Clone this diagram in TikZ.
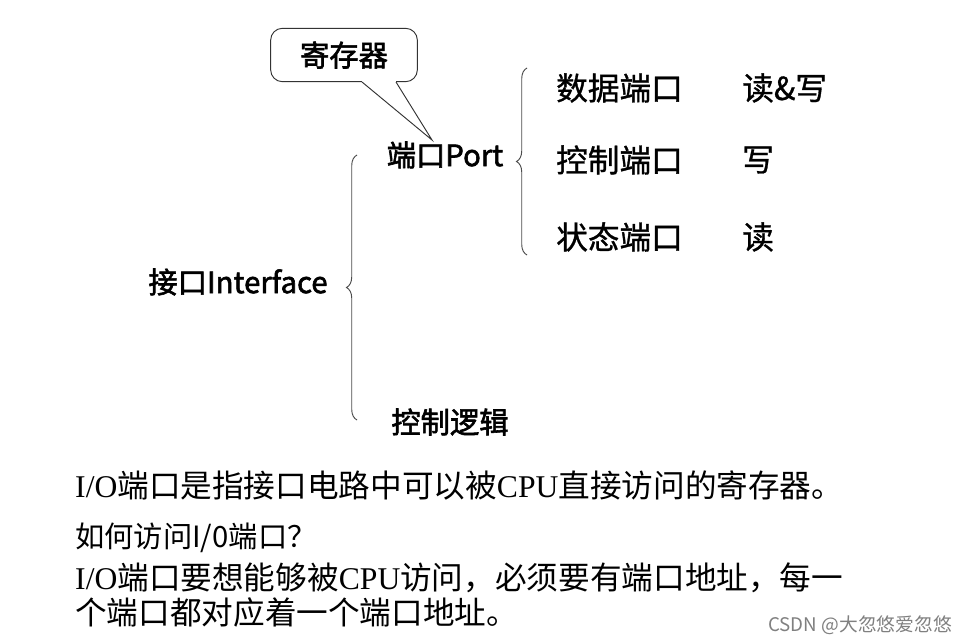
\documentclass[tikz,border=0pt]{standalone}
\usepackage{fontspec}
\usetikzlibrary{decorations.pathreplacing}
\newfontfamily\cjk{Noto Sans CJK SC}
\newfontfamily\cjkb[FakeBold=2]{Noto Sans CJK SC}
\newfontfamily\cjkm[FakeBold=1]{Noto Sans CJK SC}
\newfontfamily\serifcjk{Noto Sans CJK SC}
\setmainfont{Liberation Serif}
\begin{document}
\begin{tikzpicture}[x=0.03cm,y=-0.03cm,
  lbl/.style={font=\cjkb\fontsize{25}{28}\selectfont,inner sep=0pt},
  sub/.style={font=\cjkm\fontsize{27}{30}\selectfont,inner sep=0pt},
  body/.style={font=\fontsize{27}{30}\selectfont,inner sep=0pt,anchor=west},
  br/.style={draw=black!70,line width=0.8pt,decorate,decoration={brace,amplitude=9pt}}]
\useasboundingbox (0,0) rectangle (972,643);
\fill[white] (0,0) rectangle (972,643);
% callout
\node[draw=black!80,line width=0.8pt,rounded corners=10pt,inner sep=0pt,
  minimum width=4.4cm,minimum height=1.6cm,font=\cjkb\fontsize{25}{28}\selectfont] (reg) at (344,55) {寄存器};
\fill[white] (362,80) rectangle (396,84);
\coordinate (tip) at (432,140);
\draw[black!80,line width=0.8pt] (362,82) -- (tip) -- (396,82);
\node[lbl] (port) at (445,155) {端口Port};
\draw[br] (527,255) -- (527,68);
\node[sub,anchor=west] (d1) at (556,88) {数据端口};
\node[sub,anchor=west] (r1) at (742,88) {读\&写};
\node[sub,anchor=west] (d2) at (556,160) {控制端口};
\node[sub,anchor=west] (r2) at (742,160) {写};
\node[sub,anchor=west] (d3) at (556,237) {状态端口};
\node[sub,anchor=west] (r3) at (742,237) {读};
\draw[br] (357,420) -- (357,155);
\node[lbl] (intf) at (238,282) {接口Interface};
\node[lbl] (ctl) at (450,422) {控制逻辑};
\node[body] (t1) at (75,485) {I/O{\serifcjk 端口是指接口电路中可以被}CPU{\serifcjk 直接访问的寄存器。}};
\node[body,font=\cjk\fontsize{25}{28}\selectfont] (t2) at (75,538) {如何访问I/0端口？};
\node[body] (t3) at (75,578) {I/O{\serifcjk 端口要想能够被}CPU{\serifcjk 访问，必须要有端口地址，每一}};
\node[body] (t4) at (75,612) {{\serifcjk 个端口都对应着一个端口地址。}};
\node[font=\cjk\fontsize{16}{18}\selectfont,text=black!50,inner sep=0pt] (wm) at (860,625) {CSDN @大忽悠爱忽悠};
\end{tikzpicture}
\end{document}
